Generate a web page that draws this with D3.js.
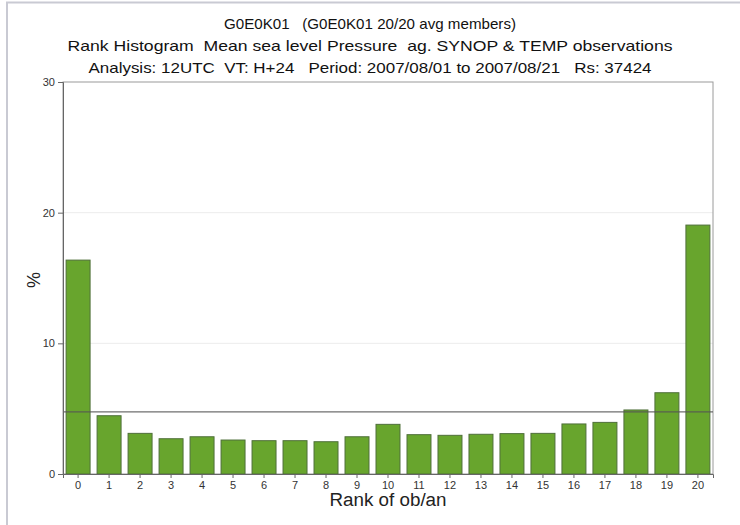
<!DOCTYPE html>
<html>
<head>
<meta charset="utf-8">
<script src="https://cdn.jsdelivr.net/npm/d3@7"></script>
<style>
  html, body { margin: 0; padding: 0; background: #fff; }
  svg { display: block; font-family: "Liberation Sans", Arial, Helvetica, sans-serif; }
</style>
</head>
<body>
<svg id="chart" width="740" height="525"></svg>
<script>
// Rank of ob/an categories (0..20) and frequency in percent
const ranks = [0, 1, 2, 3, 4, 5, 6, 7, 8, 9, 10, 11, 12, 13, 14, 15, 16, 17, 18, 19, 20];
const percents = [16.37, 4.46, 3.11, 2.70, 2.85, 2.60, 2.55, 2.55, 2.47, 2.85, 3.80,
                  3.01, 2.96, 3.04, 3.09, 3.11, 3.83, 3.95, 4.90, 6.22, 19.05];
const yTicks = [0, 10, 20, 30];
const gridValues = [10, 20];
// flat (uniform) reference level: 100 / number of ranks
const uniformLevel = 100 / ranks.length;

const titleLines = [
  "G0E0K01   (G0E0K01 20/20 avg members)",
  "Rank Histogram  Mean sea level Pressure  ag. SYNOP & TEMP observations",
  "Analysis: 12UTC  VT: H+24   Period: 2007/08/01 to 2007/08/21   Rs: 37424"
];
const xTitle = "Rank of ob/an";
const yTitle = "%";

const svg = d3.select("#chart");
const plot = { left: 63, right: 713, top: 82, bottom: 474 };

// outer frame (left and top edges)
svg.append("path")
  .attr("d", "M7,525 V2.5 H740")
  .attr("fill", "none")
  .attr("stroke", "#c9cad3")
  .attr("stroke-width", 2);

const x = d3.scaleBand()
  .domain(ranks)
  .range([plot.left, plot.right])
  .paddingInner(0.226)
  .paddingOuter(0.1);

const y = d3.scaleLinear()
  .domain([0, 30])
  .range([plot.bottom, plot.top]);

// light horizontal grid
svg.append("g")
  .selectAll("line")
  .data(gridValues)
  .join("line")
  .attr("x1", plot.left).attr("x2", plot.right)
  .attr("y1", d => y(d)).attr("y2", d => y(d))
  .attr("stroke", "#ececec")
  .attr("stroke-width", 1);

// plot frame
svg.append("rect")
  .attr("x", plot.left).attr("y", plot.top)
  .attr("width", plot.right - plot.left)
  .attr("height", plot.bottom - plot.top)
  .attr("fill", "none")
  .attr("stroke", "#9a9a9a")
  .attr("stroke-width", 1);

// bars
svg.append("g")
  .selectAll("rect")
  .data(ranks)
  .join("rect")
  .attr("x", d => x(d))
  .attr("width", x.bandwidth())
  .attr("y", (d, i) => y(percents[i]))
  .attr("height", (d, i) => y(0) - y(percents[i]))
  .attr("fill", "#68a52d")
  .attr("stroke", "#4f6f3a")
  .attr("stroke-width", 1);

// uniform reference line
svg.append("line")
  .attr("x1", plot.left).attr("x2", plot.right)
  .attr("y1", y(uniformLevel)).attr("y2", y(uniformLevel))
  .attr("stroke", "#555")
  .attr("stroke-width", 1.2)
  .attr("stroke-opacity", 0.85);

// y axis
const yAxis = svg.append("g")
  .attr("transform", `translate(${plot.left},0)`)
  .call(d3.axisLeft(y).tickValues(yTicks).tickSize(5).tickPadding(3));
yAxis.select(".domain").attr("stroke", "#666");
yAxis.selectAll(".tick line").attr("stroke", "#666");
yAxis.selectAll(".tick text")
  .attr("fill", "#333")
  .style("font-size", "11px")
  .style("font-family", "Liberation Sans, Arial, sans-serif");

// x axis
const xAxis = svg.append("g")
  .attr("transform", `translate(0,${plot.bottom})`)
  .call(d3.axisBottom(x).tickSize(4).tickPadding(3));
xAxis.select(".domain").attr("stroke", "#666");
xAxis.selectAll(".tick line").attr("stroke", "#666");
xAxis.selectAll(".tick text")
  .attr("fill", "#333")
  .style("font-size", "11px")
  .style("font-family", "Liberation Sans, Arial, sans-serif");

// axis titles
svg.append("text")
  .attr("x", (plot.left + plot.right) / 2)
  .attr("y", 506)
  .attr("text-anchor", "middle")
  .attr("fill", "#222")
  .style("font-size", "18px")
  .attr("textLength", 117)
  .attr("lengthAdjust", "spacingAndGlyphs")
  .text(xTitle);

svg.append("text")
  .attr("transform", `translate(40,${(plot.top + plot.bottom) / 2 + 2}) rotate(-90)`)
  .attr("text-anchor", "middle")
  .attr("fill", "#222")
  .style("font-size", "18px")
  .text(yTitle);

// title block
const titleWidths = [292, 605, 563];
svg.append("g")
  .selectAll("text")
  .data(titleLines)
  .join("text")
  .attr("x", 370)
  .attr("y", (d, i) => 29 + i * 22)
  .attr("text-anchor", "middle")
  .attr("fill", "#111")
  .style("font-size", "15px")
  .attr("textLength", (d, i) => titleWidths[i])
  .attr("lengthAdjust", "spacingAndGlyphs")
  .style("white-space", "pre")
  .text(d => d);
</script>
</body>
</html>
